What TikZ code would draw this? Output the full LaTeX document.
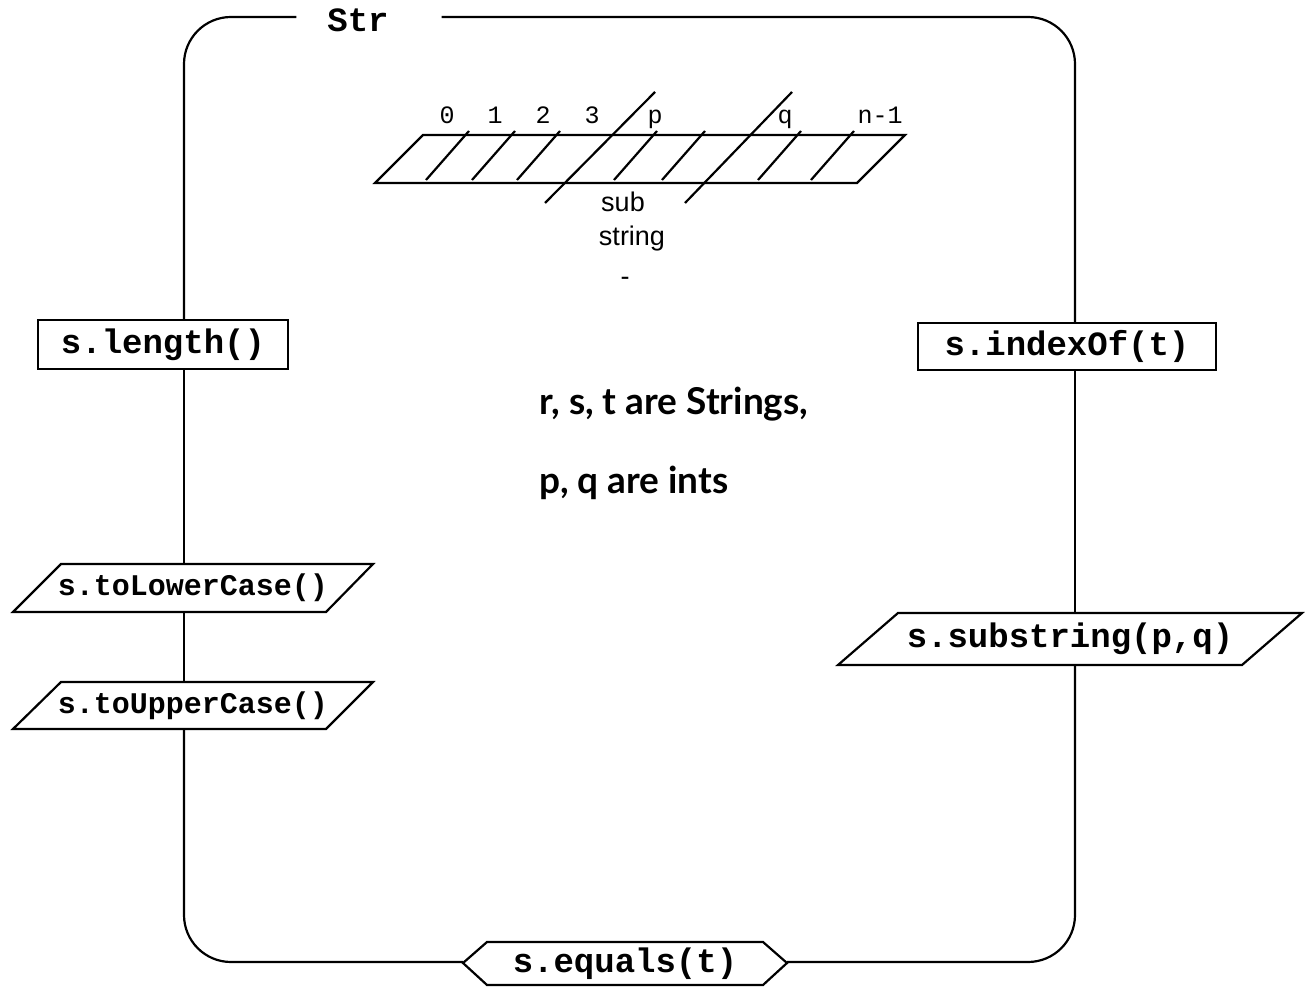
\documentclass[tikz,border=0pt]{standalone}
\usepackage{fontspec}
\newfontfamily\monof{Liberation Mono}
\newfontfamily\sansf{Liberation Sans}
\newfontfamily\notef{Lato}
\begin{document}
\begin{tikzpicture}[x=0.5pt,y=-0.5pt,line width=1.1pt,line join=miter,
  lbl/.style={font=\monof\bfseries\fontsize{17}{17}\selectfont,inner sep=0pt},
  lblsmall/.style={font=\monof\bfseries\fontsize{15}{15}\selectfont,inner sep=0pt},
  idx/.style={font=\monof\fontsize{12.5}{12.5}\selectfont,inner sep=0pt,anchor=base},
  subtxt/.style={font=\sansf\fontsize{13.5}{13.5}\selectfont,inner sep=0pt,anchor=base},
  note/.style={font=\notef\bfseries\fontsize{18.5}{18.5}\selectfont,inner sep=0pt,anchor=base west},
  boxn/.style={lbl,draw,rectangle}]
\useasboundingbox (0,0) rectangle (1306,988);
\coordinate (Lx) at (184,0);
\coordinate (Rx) at (1075,0);
\coordinate (Ty) at (0,17);
\coordinate (By) at (0,962);
% title
\node[lbl] (title) at (358,20) {Str};
% boxes
\node[boxn,minimum width=125pt,minimum height=24.5pt] (len) at (163,344.5) {s.length()};
\node[boxn,minimum width=149pt,minimum height=23.5pt] (idx) at (1067,346.5) {s.indexOf(t)};
% parallelograms
\node[lblsmall,minimum height=24pt] (lower) at (193,588) {s.toLowerCase()};
\draw (61,564) -- (373,564) -- (326,612) -- (13,612) -- cycle;
\node[lblsmall,minimum height=23.5pt] (upper) at (193,705.5) {s.toUpperCase()};
\draw (61,682) -- (373,682) -- (326,729) -- (13,729) -- cycle;
\node[lbl,minimum height=26pt] (subs) at (1070,639) {s.substring(p,q)};
\draw (898,613) -- (1302,613) -- (1242,665) -- (838,665) -- cycle;
% hexagon
\node[lbl,minimum height=21.5pt] (eq) at (625,963.5) {s.equals(t)};
\draw (463,963) -- (487,942) -- (763,942) -- (787,963) -- (763,985) -- (487,985) -- cycle;
\coordinate (eqL) at (463,963);
\coordinate (eqR) at (787,963);
% frame
\draw[rounded corners=23.5pt] ([xshift=-15pt]title.west |- Ty) -- (Lx |- Ty) -- (len.north -| Lx);
\draw[rounded corners=23.5pt] ([xshift=26pt]title.east |- Ty) -- (Rx |- Ty) -- (idx.north -| Rx);
\draw (len.south -| Lx) -- (lower.north -| Lx);
\draw (lower.south -| Lx) -- (upper.north -| Lx);
\draw[rounded corners=23.5pt] (upper.south -| Lx) -- (Lx |- By) -- (eqL |- By);
\draw (idx.south -| Rx) -- (subs.north -| Rx);
\draw[rounded corners=23.5pt] (subs.south -| Rx) -- (Rx |- By) -- (eqR |- By);
% array
\draw (423,135) -- (905,135) -- (857,183) -- (375,183) -- cycle;
\foreach \b in {426,472,517,614,662,758,811}
  \draw (\b,180) -- (\b+43,131);
\draw (545,203) -- (655,92);
\draw (685,203) -- (792,92);
\node[idx] (i0) at (447,124) {0};
\node[idx] (i1) at (495,124) {1};
\node[idx] (i2) at (543,124) {2};
\node[idx] (i3) at (592,124) {3};
\node[idx] (ip) at (655,124) {p};
\node[idx] (iq) at (785,124) {q};
\node[idx] (in) at (880,124) {n-1};
\node[subtxt] (s1) at (623,212) {sub};
\node[subtxt] (s2) at (632,246) {string};
\node[subtxt] (s3) at (625,286) {-};
% notes
\node[note] (n1) at (538,415) {r, s, t are Strings,};
\node[note] (n2) at (538,494) {p, q are ints};
\end{tikzpicture}
\end{document}
